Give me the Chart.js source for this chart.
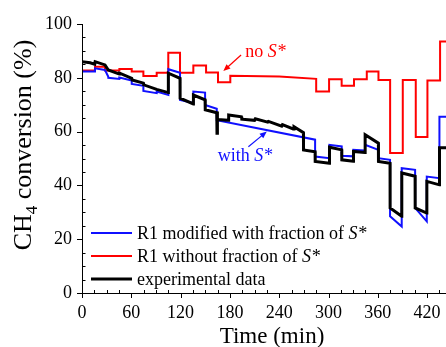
<!DOCTYPE html>
<html>
<head>
<meta charset="utf-8">
<script src="https://cdn.jsdelivr.net/npm/chart.js@4.4.1/dist/chart.umd.min.js"></script>
<style>
  html, body { margin: 0; padding: 0; background: #fff; }
  #wrap { width: 446px; height: 347px; }
</style>
</head>
<body>
<div id="wrap"><canvas id="convChart" width="446" height="347"></canvas></div>
<script>
// ---- data (time in min, conversion in %) ----
const redTime = [0, 15.8, 15.8, 28, 28, 45.5, 45.5, 60.5, 60.5, 74.7, 74.7, 90.9, 90.9, 105, 105, 119.3, 119.3, 135.5, 135.5, 151, 151, 165.5, 165.5, 180.5, 180.5, 240, 285, 285, 300.7, 300.7, 316, 316, 331, 331, 346.6, 346.6, 360.8, 360.8, 375, 375, 390.4, 390.4, 406.2, 406.2, 420.4, 420.4, 435.8, 435.8, 443];
const redConv = [82.7, 82.7, 84.1, 84.1, 82.7, 82.7, 83.3, 83.3, 82.3, 82.3, 80.7, 80.7, 81.9, 81.9, 89.3, 89.3, 81.9, 81.9, 84.6, 84.6, 82, 82, 78.3, 78.3, 80.8, 80.5, 79.6, 74.9, 74.9, 79.5, 79.5, 77, 77, 79.5, 79.5, 82.3, 82.3, 79.2, 79.2, 52, 52, 79.2, 79.2, 58, 58, 79, 79, 93.5, 93.5];

const blueTime = [0, 15.8, 15.8, 28, 32, 32, 45.4, 45.4, 60.5, 60.5, 74.7, 74.7, 90.9, 90.9, 105.1, 105.1, 119.3, 119.3, 135.5, 135.5, 149.8, 149.8, 164, 164, 283.7, 283.7, 301.1, 301.1, 316.1, 316.1, 330.3, 330.3, 344.5, 344.5, 360.7, 360.7, 374.9, 374.9, 389.1, 389.1, 405.4, 405.4, 419.6, 419.6, 435, 435, 443];
const blueConv = [82.3, 82.3, 83.5, 82.9, 80.4, 80, 79.6, 80.1, 79, 77.7, 77, 75.1, 74.3, 74.9, 73.6, 83.2, 81.9, 71.8, 70.6, 74.9, 74.5, 69.9, 68.5, 64.2, 57, 50.7, 50.1, 55.1, 54.5, 51, 50.8, 53.2, 53, 55.1, 53.2, 50.1, 49.5, 28.5, 24.7, 46.4, 45.8, 31.6, 26.6, 43.3, 42.7, 65.5, 65.5];

const expTime = [0, 10, 15.5, 16, 28, 32, 45.4, 46, 60.5, 61, 74.7, 75, 90.9, 91, 105, 105.1, 119.3, 119.4, 135.5, 135.6, 149.8, 150, 164, 164.3, 164.6, 165, 178, 178.5, 194, 194.5, 210, 211, 226, 227, 243, 244, 257, 258, 269.5, 269.6, 283.7, 283.8, 301.1, 301.2, 316.1, 316.2, 330.3, 330.4, 344.5, 344.6, 360.7, 360.8, 374.9, 375, 389.1, 389.2, 405.4, 405.5, 419.6, 419.7, 435, 435.1, 443];
const expConv = [86, 85.6, 85, 86, 84.8, 82.9, 81.4, 81.7, 79.8, 79.2, 78, 77.4, 75.7, 75.7, 74.5, 81.7, 79.8, 72.4, 70.3, 73.6, 71.8, 68.1, 67, 59.4, 67.5, 64.5, 64.2, 66.2, 65.5, 64.6, 64.2, 64.8, 63.5, 63.8, 62, 62.6, 61, 61.8, 59.6, 53.2, 52.5, 48.9, 48.2, 54.2, 53.2, 49.5, 49, 52.6, 52.2, 58.8, 55.7, 48.9, 48.2, 31.6, 28.5, 44.6, 43.4, 31.6, 29.7, 41.5, 40.2, 54, 54];

const xMax = 443;
const xMajor = 60, xMinor = 15;
const yMajor = 20, yMinor = 5;

const SERIF = '"Liberation Serif", "Times New Roman", serif';
const RED = '#ff0000', BLUE = '#1010ff', BLACK = '#000000';

function toPoints(xs, ys) {
  return xs.map((x, i) => ({ x: x, y: ys[i] }));
}

// text with some italic parts (S*), subscripts etc.
function richWidth(ctx, parts, size) {
  let w = 0;
  parts.forEach(p => {
    ctx.font = (p.italic ? 'italic ' : '') + (p.size || size) + 'px ' + SERIF;
    w += ctx.measureText(p.text).width;
  });
  return w;
}
function drawRich(ctx, parts, x, y, size, color) {
  ctx.fillStyle = color;
  ctx.textAlign = 'left';
  ctx.textBaseline = 'alphabetic';
  let cx = x;
  parts.forEach(p => {
    ctx.font = (p.italic ? 'italic ' : '') + (p.size || size) + 'px ' + SERIF;
    ctx.fillText(p.text, cx, y + (p.dy || 0));
    cx += ctx.measureText(p.text).width;
  });
}
function arrow(ctx, x1, y1, x2, y2, color) {
  const a = Math.atan2(y2 - y1, x2 - x1);
  const hl = 7, hw = 3;
  ctx.strokeStyle = color;
  ctx.fillStyle = color;
  ctx.lineWidth = 1.2;
  ctx.beginPath();
  ctx.moveTo(x1, y1);
  ctx.lineTo(x2 - Math.cos(a) * hl * 0.8, y2 - Math.sin(a) * hl * 0.8);
  ctx.stroke();
  ctx.beginPath();
  ctx.moveTo(x2, y2);
  ctx.lineTo(x2 - Math.cos(a) * hl - Math.sin(a) * hw, y2 - Math.sin(a) * hl + Math.cos(a) * hw);
  ctx.lineTo(x2 - Math.cos(a) * hl + Math.sin(a) * hw, y2 - Math.sin(a) * hl - Math.cos(a) * hw);
  ctx.closePath();
  ctx.fill();
}

const decorPlugin = {
  id: 'decor',
  afterDraw(chart) {
    const ctx = chart.ctx;
    const xs = chart.scales.x, ys = chart.scales.y;
    const area = chart.chartArea;
    ctx.save();

    // axes lines
    ctx.strokeStyle = '#000';
    ctx.lineWidth = 1;
    ctx.beginPath();
    ctx.moveTo(area.left + 0.5, area.top);
    ctx.lineTo(area.left + 0.5, area.bottom + 0.5);
    ctx.lineTo(area.right, area.bottom + 0.5);
    ctx.stroke();

    // ticks: majors outward, minors inward
    ctx.beginPath();
    for (let v = 0; v <= 100; v += yMinor) {
      const py = Math.round(ys.getPixelForValue(v)) + 0.5;
      if (v % yMajor === 0) {
        ctx.moveTo(area.left - 5, py); ctx.lineTo(area.left, py);
      } else {
        ctx.moveTo(area.left, py); ctx.lineTo(area.left + 3.5, py);
      }
    }
    for (let t = 0; t <= xMax; t += xMinor) {
      const px = Math.round(xs.getPixelForValue(t)) + 0.5;
      if (t % xMajor === 0) {
        ctx.moveTo(px, area.bottom + 5); ctx.lineTo(px, area.bottom);
      } else {
        ctx.moveTo(px, area.bottom); ctx.lineTo(px, area.bottom - 3);
      }
    }
    ctx.stroke();

    // legend
    const legend = [
      { color: BLUE, width: 2, parts: [{ text: 'R1 modified with fraction of ' }, { text: 'S*', italic: true }] },
      { color: RED, width: 2, parts: [{ text: 'R1 without fraction of ' }, { text: 'S*', italic: true }] },
      { color: BLACK, width: 3, parts: [{ text: 'experimental data' }] }
    ];
    legend.forEach((item, i) => {
      const ly = 233 + i * 23;
      ctx.strokeStyle = item.color;
      ctx.lineWidth = item.width;
      ctx.beginPath();
      ctx.moveTo(91, ly);
      ctx.lineTo(132, ly);
      ctx.stroke();
      drawRich(ctx, item.parts, 137, ly + 6, 18, '#000');
    });

    // annotations
    const nx = xs.getPixelForValue(198.6), ny = ys.getPixelForValue(87.9);
    drawRich(ctx, [{ text: 'no ' }, { text: 'S*', italic: true }], nx, ny, 18, RED);
    arrow(ctx, xs.getPixelForValue(193.6), ys.getPixelForValue(88.5),
      xs.getPixelForValue(172), ys.getPixelForValue(82.5), RED);

    const wx = xs.getPixelForValue(165.2), wy = ys.getPixelForValue(48.9);
    drawRich(ctx, [{ text: 'with ' }, { text: 'S*', italic: true }], wx, wy, 18, BLUE);
    arrow(ctx, xs.getPixelForValue(202.5), ys.getPixelForValue(54.4),
      xs.getPixelForValue(224.9), ys.getPixelForValue(60), BLUE);

    // axis titles
    ctx.fillStyle = '#000';
    ctx.font = '23px ' + SERIF;
    ctx.textAlign = 'center';
    ctx.textBaseline = 'alphabetic';
    ctx.fillText('Time (min)', 272, 343);

    const yParts = [
      { text: 'CH' },
      { text: '4', size: 17, dy: 6 },
      { text: ' conversion (%)' }
    ];
    const yw = richWidth(ctx, yParts, 26);
    ctx.translate(31, 145);
    ctx.rotate(-Math.PI / 2);
    drawRich(ctx, yParts, -yw / 2, 0, 26, '#000');

    ctx.restore();
  }
};

new Chart(document.getElementById('convChart'), {
  type: 'scatter',
  data: {
    datasets: [
      {
        label: 'experimental data',
        data: toPoints(expTime, expConv),
        borderColor: BLACK,
        borderWidth: 3,
        order: 0
      },
      {
        label: 'R1 modified with fraction of S*',
        data: toPoints(blueTime, blueConv),
        borderColor: BLUE,
        borderWidth: 2,
        order: 1
      },
      {
        label: 'R1 without fraction of S*',
        data: toPoints(redTime, redConv),
        borderColor: RED,
        borderWidth: 2,
        order: 2
      }
    ]
  },
  options: {
    responsive: false,
    animation: false,
    showLine: true,
    elements: {
      point: { radius: 0, hoverRadius: 0 },
      line: { tension: 0, fill: false, borderJoinStyle: 'miter', borderCapStyle: 'butt' }
    },
    layout: { padding: { left: 0, top: 24, right: 0, bottom: 0 } },
    plugins: {
      legend: { display: false },
      tooltip: { enabled: false }
    },
    scales: {
      x: {
        type: 'linear',
        min: 0,
        max: xMax,
        grid: { display: false, drawTicks: false },
        border: { display: false },
        ticks: {
          stepSize: xMinor,
          autoSkip: false,
          maxRotation: 0,
          padding: 9,
          color: '#000',
          font: { family: SERIF, size: 18 },
          callback: v => (v % xMajor === 0 ? v : '')
        },
        afterFit: s => { s.height = 54; s.paddingLeft = 0; s.paddingRight = 0; }
      },
      y: {
        min: 0,
        max: 100,
        grid: { display: false, drawTicks: false },
        border: { display: false },
        ticks: {
          stepSize: yMinor,
          autoSkip: false,
          padding: 10,
          color: '#000',
          font: { family: SERIF, size: 18 },
          callback: v => (v % yMajor === 0 ? v : '')
        },
        afterFit: s => { s.width = 82; }
      }
    }
  },
  plugins: [decorPlugin]
});
</script>
</body>
</html>
